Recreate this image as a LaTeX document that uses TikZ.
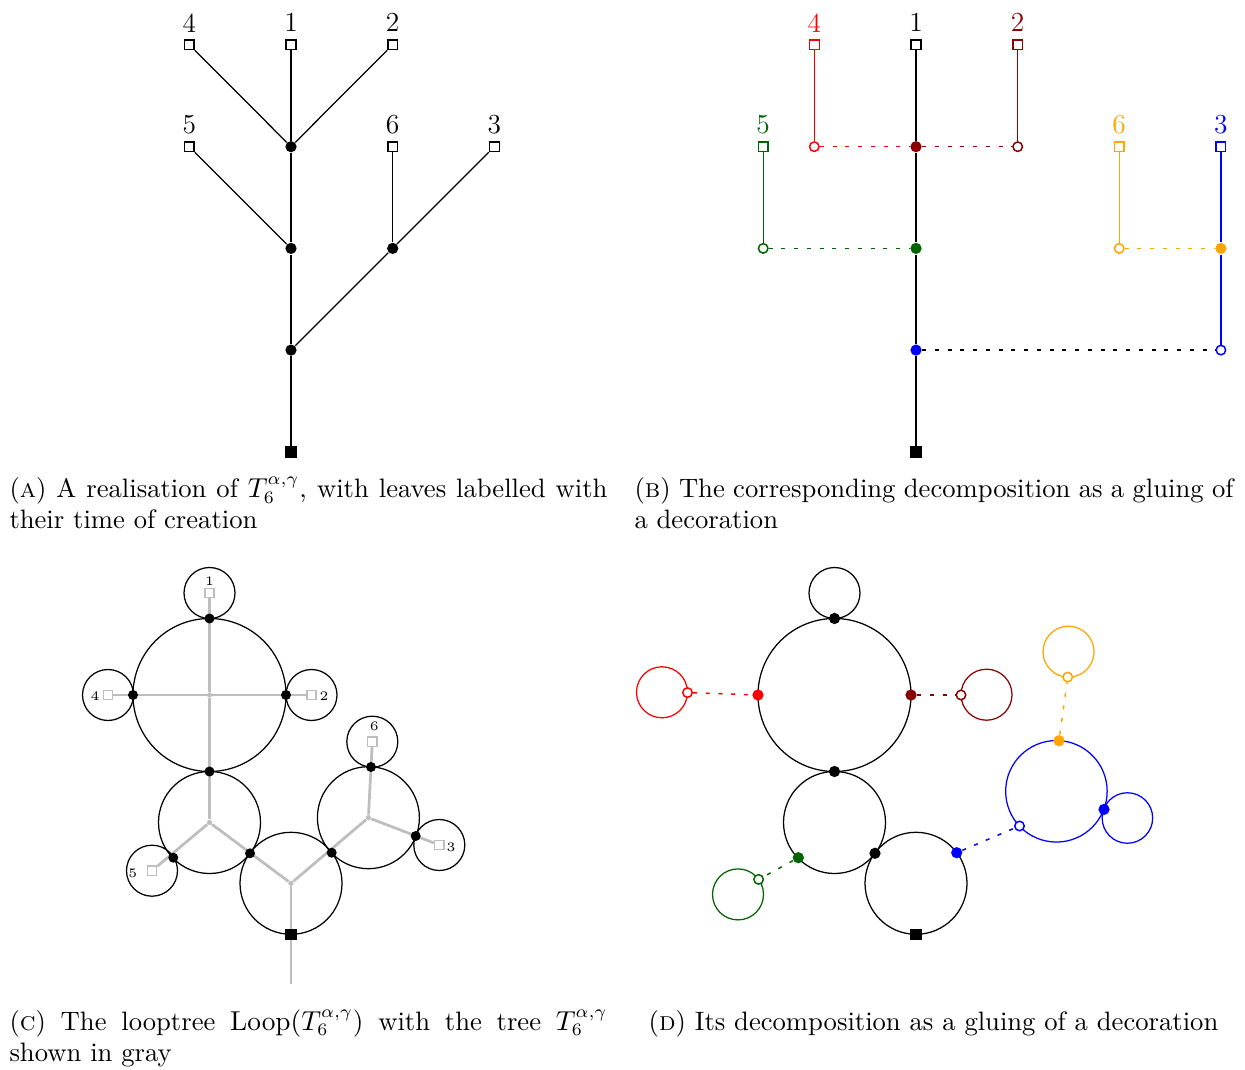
\documentclass[tikz,border=0pt]{standalone}
\usetikzlibrary{backgrounds}
\definecolor{cred}{RGB}{255,0,0}
\definecolor{cdred}{RGB}{139,0,0}
\definecolor{cgreen}{RGB}{0,100,0}
\definecolor{corange}{RGB}{255,165,0}
\definecolor{cblue}{RGB}{0,0,255}
\definecolor{treegray}{RGB}{190,190,190}
\tikzset{
 bdot/.style={circle,fill=#1,inner sep=0pt,minimum size=4.5pt},
 bdot/.default=black,
 cdot/.style={circle,fill=black,inner sep=0pt,minimum size=4pt},
 hollow/.style={circle,draw=#1,fill=white,inner sep=0pt,minimum size=3.8pt,line width=0.6pt},
 leafsq/.style={rectangle,draw=#1,fill=white,inner sep=0pt,minimum size=3.9pt,line width=0.55pt},
 leafsq/.default=black,
 rootsq/.style={rectangle,fill=black,inner sep=0pt,minimum size=4.6pt},
 tline/.style={line width=0.5pt},
 gluel/.style={line width=0.6pt,dash pattern=on 1.6pt off 3.5pt},
 loopc/.style={line width=0.5pt},
 gtree/.style={draw=treegray,line width=1.1pt},
 gdot/.style={circle,fill=treegray,inner sep=0pt,minimum size=2.1pt},
 gleaf/.style={rectangle,draw=treegray,fill=white,inner sep=0pt,minimum size=3.7pt,line width=0.6pt},
 lab/.style={font=\fontsize{11}{13}\selectfont,inner sep=0pt},
 slab/.style={font=\fontsize{5.2}{6}\selectfont,inner sep=0pt},
 captxt/.style={font=\fontsize{10.65}{12.4}\selectfont,inner sep=0pt,anchor=base west},
}
\begin{document}
\begin{tikzpicture}[x=0.4pt,y=-0.4pt]
\path[use as bounding box] (0,0) rectangle (1245,1070);

% ================= Panel A =================
\node[leafsq] (a4) at (189.3,44.7) {};
\node[leafsq] (a1) at (291,44.7) {};
\node[leafsq] (a2) at (392.7,44.7) {};
\node[leafsq] (a5) at (189.3,146.7) {};
\node[leafsq] (a6) at (392.7,146.7) {};
\node[leafsq] (a3) at (494.4,146.7) {};
\node[bdot] (an1) at (291,146.7) {};
\node[bdot] (an2) at (291,248.4) {};
\node[bdot] (an3) at (392.7,248.4) {};
\node[bdot] (an4) at (291,350.1) {};
\node[rootsq] (aroot) at (291,451.8) {};
\node[lab] (al4) at (189.3,22.8) {4};
\node[lab] (al1) at (291,22.8) {1};
\node[lab] (al2) at (392.7,22.8) {2};
\node[lab] (al5) at (189.3,124.5) {5};
\node[lab] (al6) at (392.7,124.5) {6};
\node[lab] (al3) at (494.4,124.5) {3};
\begin{scope}[on background layer]
\draw[tline] (a4) -- (an1);
\draw[tline] (a1) -- (an1);
\draw[tline] (a2) -- (an1);
\draw[tline] (an1) -- (an2);
\draw[tline] (a5) -- (an2);
\draw[tline] (an2) -- (an4);
\draw[tline] (a6) -- (an3);
\draw[tline] (a3) -- (an3);
\draw[tline] (an3) -- (an4);
\draw[tline] (an4) -- (aroot);
\end{scope}

% ================= Panel B =================
\node[leafsq=cred] (b4) at (814.3,44.7) {};
\node[leafsq] (b1) at (916,44.7) {};
\node[leafsq=cdred] (b2) at (1017.7,44.7) {};
\node[leafsq=cgreen] (b5) at (763.2,146.7) {};
\node[leafsq=corange] (b6) at (1119.2,146.7) {};
\node[leafsq=cblue] (b3) at (1220.9,146.7) {};
\node[hollow=cred] (bc4) at (814.3,146.7) {};
\node[hollow=cdred] (bc2) at (1017.7,146.7) {};
\node[hollow=cgreen] (bc5) at (763.2,248.4) {};
\node[hollow=corange] (bc6) at (1119.2,248.4) {};
\node[hollow=cblue] (bc3) at (1220.9,350.1) {};
\node[bdot=cdred] (bn1) at (916,146.7) {};
\node[bdot=cgreen] (bn2) at (916,248.4) {};
\node[bdot=corange] (bn3) at (1220.9,248.4) {};
\node[bdot=cblue] (bn4) at (916,350.1) {};
\node[rootsq] (broot) at (916,451.8) {};
\node[lab,text=cred] (bl4) at (814.3,22.8) {4};
\node[lab] (bl1) at (916,22.8) {1};
\node[lab,text=cdred] (bl2) at (1017.7,22.8) {2};
\node[lab,text=cgreen] (bl5) at (763.2,124.5) {5};
\node[lab,text=corange] (bl6) at (1119.2,124.5) {6};
\node[lab,text=cblue] (bl3) at (1220.9,124.5) {3};
\begin{scope}[on background layer]
\draw[tline] (b1) -- (bn1) -- (bn2) -- (bn4) -- (broot);
\draw[tline,cred] (b4) -- (bc4);
\draw[tline,cdred] (b2) -- (bc2);
\draw[tline,cgreen] (b5) -- (bc5);
\draw[tline,corange] (b6) -- (bc6);
\draw[tline,cblue] (b3) -- (bn3) -- (bc3);
\draw[gluel,cred] (bc4) -- (bn1);
\draw[gluel,cdred] (bn1) -- (bc2);
\draw[gluel,cgreen] (bc5) -- (bn2);
\draw[gluel,corange] (bc6) -- (bn3);
\draw[gluel,black] (bn4) -- (bc3);
\end{scope}

% ================= Panel C =================
\coordinate (cT) at (209.5,695);
\coordinate (cL) at (209.5,822.5);
\coordinate (cB) at (291,883.3);
\coordinate (cR) at (368.4,817.7);
\coordinate (cbot) at (291,984);
\node[gdot] (gT) at (209.5,695) {};
\node[gdot] (gL) at (209.5,822.5) {};
\node[gdot] (gB) at (291,883.3) {};
\node[gdot] (gR) at (368.4,817.7) {};
\node[gleaf] (s1) at (209.5,593) {};
\node[gleaf] (s4) at (108,695) {};
\node[gleaf] (s2) at (311.5,695) {};
\node[gleaf] (s5) at (152,870.7) {};
\node[gleaf] (s6) at (372.3,741.7) {};
\node[gleaf] (s3) at (439.3,845) {};
\node[cdot] (d1) at (209.5,618.5) {};
\node[cdot] (d4) at (133,695) {};
\node[cdot] (d2) at (286,695) {};
\node[cdot] (dTL) at (209.5,771.5) {};
\node[cdot] (d5) at (173.3,857.7) {};
\node[cdot] (dLB) at (250,853.3) {};
\node[cdot] (dBR) at (331.7,852.7) {};
\node[cdot] (d6) at (371,767) {};
\node[cdot] (d3) at (415.7,836) {};
\node[rootsq] (croot) at (291,934.3) {};
\node[slab] (cl1) at (209.5,581) {1};
\node[slab] (cl4) at (95,696) {4};
\node[slab] (cl2) at (324,696) {2};
\node[slab] (cl5) at (132.7,873) {5};
\node[slab] (cl6) at (374.3,726) {6};
\node[slab] (cl3) at (451,847.7) {3};
\begin{scope}[on background layer]
\draw[gtree] (s1) -- (gT) -- (gL);
\draw[gtree] (s4) -- (s2);
\draw[gtree] (gL) -- (s5);
\draw[gtree] (gL) -- (gB) -- (gR);
\draw[gtree] (gR) -- (s6);
\draw[gtree] (gR) -- (s3);
\draw[gtree] (gB) -- (cbot);
\draw[loopc] (cT) circle[radius=30.6pt];
\draw[loopc] (cL) circle[radius=20.4pt];
\draw[loopc] (cB) circle[radius=20.4pt];
\draw[loopc] (cR) circle[radius=20.4pt];
\draw[loopc] (s1.center) circle[radius=10.2pt];
\draw[loopc] (s4.center) circle[radius=10.2pt];
\draw[loopc] (s2.center) circle[radius=10.2pt];
\draw[loopc] (s5.center) circle[radius=10.2pt];
\draw[loopc] (s6.center) circle[radius=10.2pt];
\draw[loopc] (s3.center) circle[radius=10.2pt];
\end{scope}

% ================= Panel D =================
\coordinate (eT) at (834.5,695);
\coordinate (eL) at (834.5,822.5);
\coordinate (eB) at (916,883.3);
\coordinate (e1) at (834.5,593);
\coordinate (eRed) at (662,692.3);
\coordinate (eDred) at (986.5,694.7);
\coordinate (eGreen) at (738,894.4);
\coordinate (eOr) at (1068.5,651.7);
\coordinate (eBlue) at (1056.4,791.3);
\coordinate (eBsm) at (1127.4,818);
\node[bdot] (f1) at (834.5,618.5) {};
\node[bdot] (fTL) at (834.5,771.5) {};
\node[bdot] (fLB) at (875,853.3) {};
\node[bdot=cred] (fr) at (758,695) {};
\node[bdot=cdred] (fdr) at (911,695) {};
\node[bdot=cgreen] (fg) at (798.3,857.7) {};
\node[bdot=cblue] (fb) at (956.7,852.7) {};
\node[bdot=corange] (fo) at (1059,740.7) {};
\node[bdot=cblue] (fb2) at (1104,809.4) {};
\node[rootsq] (froot) at (916,934.3) {};
\node[hollow=cred] (hr) at (687.5,692.6) {};
\node[hollow=cdred] (hdr) at (961,695) {};
\node[hollow=cgreen] (hg) at (758.6,879.4) {};
\node[hollow=cblue] (hb) at (1019.5,826) {};
\node[hollow=corange] (ho) at (1067.7,677.1) {};
\begin{scope}[on background layer]
\draw[loopc] (eT) circle[radius=30.6pt];
\draw[loopc] (eL) circle[radius=20.4pt];
\draw[loopc] (eB) circle[radius=20.4pt];
\draw[loopc] (e1) circle[radius=10.2pt];
\draw[loopc,cred] (eRed) circle[radius=10.2pt];
\draw[loopc,cdred] (eDred) circle[radius=10.2pt];
\draw[loopc,cgreen] (eGreen) circle[radius=10.2pt];
\draw[loopc,corange] (eOr) circle[radius=10.2pt];
\draw[loopc,cblue] (eBlue) circle[radius=20.3pt];
\draw[loopc,cblue] (eBsm) circle[radius=10.1pt];
\draw[gluel,cred] (hr) -- (fr);
\draw[gluel,cdred] (fdr) -- (hdr);
\draw[gluel,cgreen] (fg) -- (hg);
\draw[gluel,cblue] (fb) -- (hb);
\draw[gluel,corange] (fo) -- (ho);
\end{scope}

% ================= Captions =================
\node[captxt] (capA1) at (9,497.3) {\makebox[239.2pt][s]{(\textsc{a}) A realisation of $T_6^{\alpha,\gamma}$, with leaves labelled with}};
\node[captxt] (capA2) at (9,528.3) {their time of creation};
\node[captxt] (capB1) at (634,497.3) {\makebox[239.6pt][s]{(\textsc{b}) The corresponding decomposition as a gluing of}};
\node[captxt] (capB2) at (634,528.3) {a decoration};
\node[captxt] (capC1) at (9,1030) {\makebox[239.2pt][s]{(\textsc{c}) The looptree $\mathrm{Loop}(T_6^{\alpha,\gamma})$ with the tree $T_6^{\alpha,\gamma}$}};
\node[captxt] (capC2) at (9,1061) {shown in gray};
\node[captxt,anchor=base] (capD) at (933.5,1030) {(\textsc{d}) Its decomposition as a gluing of a decoration};
\end{tikzpicture}
\end{document}
